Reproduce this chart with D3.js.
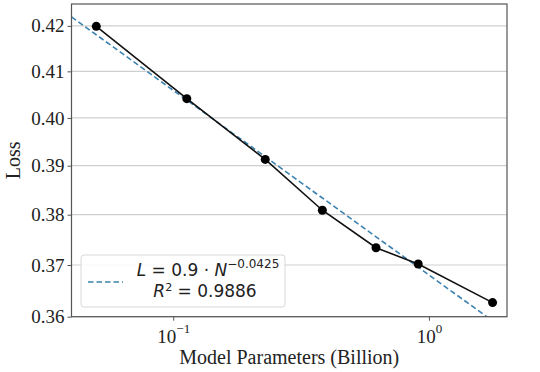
<!DOCTYPE html>
<html>
<head>
<meta charset="utf-8">
<script src="https://cdn.jsdelivr.net/npm/d3@7"></script>
<style>
  body { margin: 0; background: #fff; }
  svg { display: block; }
</style>
</head>
<body>
<div id="chart"></div>
<script>
// data
const params = [0.05, 0.113, 0.229, 0.383, 0.621, 0.908, 1.774];   // billion
const loss = [0.4199, 0.4041, 0.3913, 0.3809, 0.3734, 0.3702, 0.3627];
const yTicks = [0.36, 0.37, 0.38, 0.39, 0.40, 0.41, 0.42];
const xTicks = [0.1, 1];
const xTickExp = ["\u22121", "0"];
// power law fit, N in raw parameter count
const fitCoef = 0.888, fitExp = -0.0425;

const width = 540, height = 372;
const mLeft = 71.5, mRight = 507, mTop = 4, mBottom = 316.7;

const svg = d3.select("#chart").append("svg")
    .attr("width", width)
    .attr("height", height);

const x = d3.scaleLog().domain([0.04, 2.02]).range([mLeft, mRight]);
const y = d3.scaleLog().domain([0.36, 0.4249]).range([mBottom, mTop]);

svg.append("clipPath").attr("id", "clip")
  .append("rect")
    .attr("x", mLeft).attr("y", mTop)
    .attr("width", mRight - mLeft).attr("height", mBottom - mTop);

// grid
svg.append("g").selectAll("line")
  .data(yTicks)
  .join("line")
    .attr("x1", mLeft).attr("x2", mRight)
    .attr("y1", d => y(d)).attr("y2", d => y(d))
    .attr("stroke", "#cfcfcf")
    .attr("stroke-width", 1.2);

// y axis
const yAxis = svg.append("g")
    .attr("transform", `translate(${mLeft},0)`)
    .call(d3.axisLeft(y).tickValues(yTicks).tickFormat(d3.format(".2f")).tickSize(4).tickPadding(3));
yAxis.select(".domain").remove();
yAxis.selectAll(".tick line").attr("stroke", "#555");
yAxis.selectAll(".tick text")
    .attr("font-family", "Liberation Serif")
    .attr("font-size", 19)
    .attr("fill", "#222");

// x axis
const xAxis = svg.append("g")
    .attr("transform", `translate(0,${mBottom})`)
    .call(d3.axisBottom(x).tickValues(xTicks).tickFormat("").tickSize(4));
xAxis.select(".domain").remove();
xAxis.selectAll(".tick line").attr("stroke", "#555");
xAxis.selectAll(".tick").each(function(d, i) {
  const t = d3.select(this).append("text")
      .attr("y", 26)
      .attr("text-anchor", "middle")
      .attr("font-family", "Liberation Serif")
      .attr("font-size", 19)
      .attr("fill", "#222");
  t.append("tspan").text("10");
  t.append("tspan").attr("dy", -10).attr("font-size", 13).text(xTickExp[i]);
});

// fit line
const fitLine = d3.line()
    .x(d => x(d))
    .y(d => y(fitCoef * Math.pow(d * 1e9, fitExp)));
svg.append("path")
    .datum(x.domain())
    .attr("clip-path", "url(#clip)")
    .attr("d", fitLine)
    .attr("fill", "none")
    .attr("stroke", "#3b82b0")
    .attr("stroke-width", 1.6)
    .attr("stroke-dasharray", "5.5,3");

// data line + markers
const pts = params.map((p, i) => [p, loss[i]]);
svg.append("path")
    .datum(pts)
    .attr("d", d3.line().x(d => x(d[0])).y(d => y(d[1])))
    .attr("fill", "none")
    .attr("stroke", "#111")
    .attr("stroke-width", 1.6);
svg.append("g").selectAll("circle")
  .data(pts)
  .join("circle")
    .attr("cx", d => x(d[0]))
    .attr("cy", d => y(d[1]))
    .attr("r", 4.5)
    .attr("fill", "#000");

// frame
svg.append("rect")
    .attr("x", mLeft).attr("y", mTop)
    .attr("width", mRight - mLeft).attr("height", mBottom - mTop)
    .attr("fill", "none")
    .attr("stroke", "#555")
    .attr("stroke-width", 1.2);

// legend
const lg = svg.append("g");
lg.append("rect")
    .attr("x", 81).attr("y", 255)
    .attr("width", 204).attr("height", 52)
    .attr("rx", 3)
    .attr("fill", "#fff").attr("fill-opacity", 0.85)
    .attr("stroke", "#d8d8d8");
lg.append("line")
    .attr("x1", 88).attr("x2", 123)
    .attr("y1", 282).attr("y2", 282)
    .attr("stroke", "#3b82b0")
    .attr("stroke-width", 1.6)
    .attr("stroke-dasharray", "5.5,3");
const l1 = lg.append("text")
    .attr("x", 208).attr("y", 276)
    .attr("text-anchor", "middle")
    .attr("font-family", "DejaVu Sans")
    .attr("font-size", 17)
    .attr("fill", "#222");
l1.append("tspan").attr("font-style", "italic").text("L");
l1.append("tspan").text(" = 0.9 \u00b7 ");
l1.append("tspan").attr("font-style", "italic").text("N");
l1.append("tspan").attr("dy", -8).attr("font-size", 12).text("\u22120.0425");
const l2 = lg.append("text")
    .attr("x", 205).attr("y", 296.5)
    .attr("text-anchor", "middle")
    .attr("font-family", "DejaVu Sans")
    .attr("font-size", 17)
    .attr("fill", "#222");
l2.append("tspan").attr("font-style", "italic").text("R");
l2.append("tspan").attr("dy", -6).attr("font-size", 11).text("2");
l2.append("tspan").attr("dy", 6).text(" = 0.9886");

// axis labels
svg.append("text")
    .attr("x", (mLeft + mRight) / 2).attr("y", 364)
    .attr("text-anchor", "middle")
    .attr("font-family", "Liberation Serif")
    .attr("font-size", 20)
    .attr("fill", "#222")
    .text("Model Parameters (Billion)");
svg.append("text")
    .attr("transform", `translate(20,${(mTop + mBottom) / 2}) rotate(-90)`)
    .attr("text-anchor", "middle")
    .attr("font-family", "Liberation Serif")
    .attr("font-size", 20)
    .attr("fill", "#222")
    .text("Loss");
</script>
</body>
</html>
